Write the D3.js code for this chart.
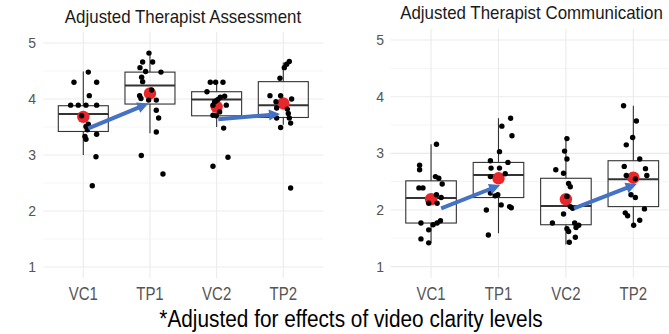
<!DOCTYPE html>
<html>
<head>
<meta charset="utf-8">
<script src="https://cdn.jsdelivr.net/npm/d3@7"></script>
<style>
  body { margin: 0; background: #fff; }
  text { font-family: "Liberation Sans", Arial, sans-serif; }
</style>
</head>
<body>
<div id="chart"></div>
<script>
// categories on the x axis
var categories = ["VC1", "TP1", "VC2", "TP2"];
var yTicks = [1, 2, 3, 4, 5];
var yMinor = [1.5, 2.5, 3.5, 4.5];

// box stats per category: [whisker low, q1, median, q3, whisker high]
var assessBoxes = [[3.0, 3.42, 3.73, 3.88, 4.49], [3.39, 3.91, 4.24, 4.48, 4.82],
                   [3.5, 3.70, 3.99, 4.13, 4.33], [3.54, 3.67, 3.89, 4.31, 4.65]];
var commBoxes = [[1.42, 1.77, 2.21, 2.515, 3.16], [1.59, 2.22, 2.62, 2.84, 3.62],
                 [1.39, 1.74, 2.07, 2.56, 3.30], [1.77, 2.06, 2.545, 2.87, 3.84]];

// group means (red dots)
var assessMeans = [3.68, 4.10, 3.86, 3.92];
var commMeans = [2.19, 2.56, 2.19, 2.57];

// jittered points: [jitter in category units, value]
var assessVC1 = [[0.075,4.48],[-0.14,4.30],[0.20,4.30],[0.09,4.06],[-0.19,3.89],[-0.075,3.89],[0.04,3.89],
  [0.20,3.89],[-0.025,3.70],[0.075,3.55],[0.04,3.51],[0.06,3.45],[0.20,3.37],[0.025,3.33],[0.04,3.28],[0.19,2.97],[0.135,2.45]];
var assessTP1 = [[-0.015,4.82],[-0.11,4.66],[0.04,4.66],[-0.15,4.56],[-0.065,4.49],[0.165,4.48],[-0.125,4.39],
  [-0.11,4.31],[0.025,4.16],[-0.155,4.06],[-0.135,4.01],[-0.02,3.98],[0.095,3.98],[0.095,3.80],[0.13,3.66],
  [0.095,3.41],[-0.13,2.99],[0.195,2.66]];
var assessVC2 = [[-0.095,4.30],[-0.015,4.30],[0.095,4.30],[-0.145,4.13],[0.12,4.05],[0.055,4.03],[0.02,3.99],
  [-0.005,3.97],[-0.03,3.95],[-0.055,3.89],[0.145,3.89],[0.045,3.77],[-0.055,3.71],[-0.005,3.70],[0.105,3.48],
  [0.17,2.96],[-0.055,2.80]];
var assessTP2 = [[0.09,4.67],[0.05,4.62],[0.015,4.56],[-0.05,4.37],[-0.2,4.06],[-0.04,4.06],[0.125,4.00],
  [-0.11,3.95],[-0.1,3.84],[0.06,3.82],[0.075,3.74],[0.09,3.66],[-0.1,3.66],[0.11,3.57],[-0.04,3.49],[0.11,2.41]];

var commVC1 = [[0.08,3.16],[-0.17,2.79],[-0.17,2.71],[0.065,2.59],[0.115,2.56],[0.165,2.46],[-0.18,2.39],
  [-0.12,2.39],[0.08,2.27],[0.15,2.22],[-0.035,2.12],[0.09,2.12],[-0.15,1.77],[0.03,1.74],[0.09,1.77],
  [0.14,1.81],[-0.035,1.65],[-0.15,1.49],[-0.035,1.42]];
var commTP1 = [[0.18,3.62],[0.05,3.48],[0.2,3.31],[0.015,3.03],[-0.12,2.87],[0.14,2.84],[-0.11,2.74],
  [0.015,2.74],[0.1,2.64],[-0.12,2.59],[-0.12,2.30],[-0.05,2.25],[-0.01,2.27],[0.165,2.06],[0.04,2.09],
  [0.19,2.04],[-0.18,2.0],[-0.15,1.56]];
var commVC2 = [[0.015,3.26],[-0.02,3.04],[0.015,2.90],[-0.15,2.71],[-0.035,2.65],[0.04,2.47],[0.065,2.41],
  [0.015,2.24],[0.065,2.06],[0.1,2.03],[-0.035,1.93],[-0.2,1.77],[0.13,1.77],[0.19,1.73],[0.15,1.69],
  [0.015,1.67],[0.04,1.62],[0.14,1.52],[0.05,1.43]];
var commTP2 = [[-0.145,3.84],[0.045,3.57],[-0.01,3.28],[-0.105,3.15],[0.095,2.90],[-0.135,2.77],[0.18,2.73],
  [0.2,2.61],[-0.105,2.61],[0.03,2.55],[-0.035,2.27],[0.03,2.22],[0.165,2.02],[-0.12,1.95],[-0.085,1.90],
  [0.095,1.82],[0.005,1.73]];

// arrows: [from category, jitter, value, to category, jitter, value]
var assessArrows = [[0, 0.075, 3.475, 1, -0.025, 3.92], [2, 0.025, 3.64, 3, -0.05, 3.73]];
var commArrows = [[0, 0.15, 2.03, 1, 0.025, 2.44], [2, 0.12, 2.03, 3, 0.05, 2.46]];

var width = 669, height = 334;

var svg = d3.select("#chart").append("svg")
	.attr("width", width)
	.attr("height", height);

// text helper, the source picture is a bit stretched vertically
function label(g, x, y, str, size, sy, anchor, fill) {
	return g.append("text")
		.attr("transform", "translate(" + x + "," + y + ") scale(1," + sy + ")")
		.attr("text-anchor", anchor)
		.style("font-size", size + "px")
		.attr("fill", fill)
		.text(str);
}

function drawPanel(p) {
	var x = d3.scalePoint().domain(categories).range(p.xRange).padding(0.6);
	var y = d3.scaleLinear().domain([0.8, 5.2]).range(p.yRange);
	var step = x.step();
	var g = svg.append("g");
	var right = Math.min(p.xRange[1], width);

	function px(ci, dx) { return x(categories[ci]) + dx * step; }

	// grid
	g.selectAll(".minor").data(yMinor).enter().append("line")
		.attr("x1", p.xRange[0]).attr("x2", right)
		.attr("y1", function(d) { return y(d); }).attr("y2", function(d) { return y(d); })
		.attr("stroke", "#f3f3f3").attr("stroke-width", 0.8);
	g.selectAll(".major").data(yTicks).enter().append("line")
		.attr("x1", p.xRange[0]).attr("x2", right)
		.attr("y1", function(d) { return y(d); }).attr("y2", function(d) { return y(d); })
		.attr("stroke", "#ebebeb").attr("stroke-width", 1.1);
	g.selectAll(".vgrid").data(categories).enter().append("line")
		.attr("x1", function(d) { return x(d); }).attr("x2", function(d) { return x(d); })
		.attr("y1", p.yRange[1]).attr("y2", p.yRange[0])
		.attr("stroke", "#ebebeb").attr("stroke-width", 1.1);

	// tick labels
	yTicks.forEach(function(t) {
		label(g, p.yLabelX, y(t) + 5, t, 14, 1.08, "end", "#555");
	});
	categories.forEach(function(c) {
		label(g, x(c), 300, c, 15, 1.18, "middle", "#555");
	});

	// title
	label(g, p.titleX, p.titleY, p.title, 16.9, 1.06, "middle", "#1a1a1a");

	var bw = step * 0.75;

	// boxes
	var box = g.selectAll(".box").data(p.boxes).enter().append("g");
	box.append("line")
		.attr("x1", function(d, i) { return px(i, 0); }).attr("x2", function(d, i) { return px(i, 0); })
		.attr("y1", function(d) { return y(d[0]); }).attr("y2", function(d) { return y(d[1]); })
		.attr("stroke", "#333").attr("stroke-width", 1.1);
	box.append("line")
		.attr("x1", function(d, i) { return px(i, 0); }).attr("x2", function(d, i) { return px(i, 0); })
		.attr("y1", function(d) { return y(d[3]); }).attr("y2", function(d) { return y(d[4]); })
		.attr("stroke", "#333").attr("stroke-width", 1.1);
	box.append("rect")
		.attr("x", function(d, i) { return px(i, 0) - bw / 2; })
		.attr("width", bw)
		.attr("y", function(d) { return y(d[3]); })
		.attr("height", function(d) { return y(d[1]) - y(d[3]); })
		.attr("fill", "none").attr("stroke", "#333").attr("stroke-width", 1.1);
	box.append("line")
		.attr("x1", function(d, i) { return px(i, 0) - bw / 2; })
		.attr("x2", function(d, i) { return px(i, 0) + bw / 2; })
		.attr("y1", function(d) { return y(d[2]); }).attr("y2", function(d) { return y(d[2]); })
		.attr("stroke", "#333").attr("stroke-width", 2);

	// means
	g.selectAll(".mean").data(p.means).enter().append("circle")
		.attr("cx", function(d, i) { return px(i, 0); })
		.attr("cy", function(d) { return y(d); })
		.attr("r", 6.2)
		.attr("fill", "#e8262b");

	// jittered points
	p.points.forEach(function(pts, ci) {
		g.selectAll(null).data(pts).enter().append("circle")
			.attr("cx", function(d) { return px(ci, d[0]); })
			.attr("cy", function(d) { return y(d[1]); })
			.attr("r", 2.7)
			.attr("fill", "#000");
	});

	// arrows
	p.arrows.forEach(function(a) {
		var x1 = px(a[0], a[1]), y1 = y(a[2]), x2 = px(a[3], a[4]), y2 = y(a[5]);
		var ang = Math.atan2(y2 - y1, x2 - x1);
		var hl = 11, hw = 5.5;
		var bx = x2 - hl * Math.cos(ang), by = y2 - hl * Math.sin(ang);
		g.append("line")
			.attr("x1", x1).attr("y1", y1).attr("x2", bx + Math.cos(ang)).attr("y2", by + Math.sin(ang))
			.attr("stroke", "#4472c4").attr("stroke-width", 4);
		var pts = [[x2, y2],
			[bx - hw * Math.sin(ang), by + hw * Math.cos(ang)],
			[bx + hw * Math.sin(ang), by - hw * Math.cos(ang)]];
		g.append("path")
			.attr("d", "M" + pts.map(function(q) { return q.join(","); }).join("L") + "Z")
			.attr("fill", "#4472c4");
	});
}

drawPanel({
	title: "Adjusted Therapist Assessment", titleX: 183, titleY: 22.5,
	xRange: [43.3, 323.3], yRange: [278.2, 31.8], yLabelX: 36,
	boxes: assessBoxes, means: assessMeans,
	points: [assessVC1, assessTP1, assessVC2, assessTP2], arrows: assessArrows
});

drawPanel({
	title: "Adjusted Therapist Communication", titleX: 531.5, titleY: 18.5,
	xRange: [390.6, 673.8], yRange: [278, 28.7], yLabelX: 384,
	boxes: commBoxes, means: commMeans,
	points: [commVC1, commTP1, commVC2, commTP2], arrows: commArrows
});

label(svg, 351, 327, "*Adjusted for effects of video clarity levels", 20.8, 1.15, "middle", "#000");
</script>
</body>
</html>
